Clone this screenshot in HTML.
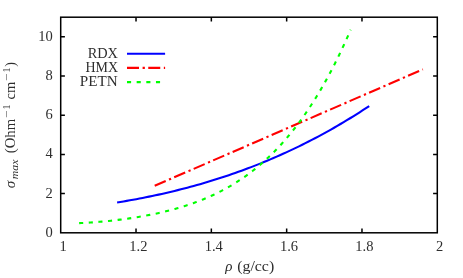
<!DOCTYPE html>
<html><head><meta charset="utf-8"><title>plot</title>
<style>
html,body{margin:0;padding:0;background:#fff;}
body{width:463px;height:278px;overflow:hidden;}
svg{display:block;will-change:transform;}
text{font-family:"Liberation Serif",serif;font-size:14.5px;fill:#2e2e2e;}
</style></head><body>
<svg width="463" height="278" viewBox="0 0 463 278">
<rect width="463" height="278" fill="#fff"/>
<g fill="none" stroke-linecap="butt" stroke-linejoin="round">
<g transform="translate(0,0.3)">
<path d="M117.11,202.21 L120.31,201.68 L123.50,201.15 L126.69,200.60 L129.88,200.03 L133.07,199.45 L136.26,198.86 L139.45,198.26 L142.64,197.64 L145.83,197.00 L149.03,196.35 L152.22,195.69 L155.41,195.01 L158.60,194.32 L161.79,193.61 L164.98,192.89 L168.17,192.15 L171.36,191.39 L174.55,190.62 L177.75,189.84 L180.94,189.03 L184.13,188.21 L187.32,187.38 L190.51,186.52 L193.70,185.65 L196.89,184.76 L200.08,183.86 L203.27,182.93 L206.47,181.99 L209.66,181.03 L212.85,180.05 L216.04,179.06 L219.23,178.04 L222.42,177.01 L225.61,175.95 L228.80,174.88 L231.99,173.79 L235.18,172.68 L238.38,171.55 L241.57,170.40 L244.76,169.22 L247.95,168.03 L251.14,166.82 L254.33,165.59 L257.52,164.33 L260.71,163.06 L263.90,161.76 L267.10,160.44 L270.29,159.10 L273.48,157.74 L276.67,156.36 L279.86,154.95 L283.05,153.52 L286.24,152.07 L289.43,150.59 L292.62,149.10 L295.82,147.57 L299.01,146.03 L302.20,144.46 L305.39,142.87 L308.58,141.25 L311.77,139.61 L314.96,137.95 L318.15,136.26 L321.34,134.55 L324.54,132.81 L327.73,131.04 L330.92,129.25 L334.11,127.44 L337.30,125.60 L340.49,123.73 L343.68,121.84 L346.87,119.92 L350.06,117.97 L353.26,116.00 L356.45,114.00 L359.64,111.97 L362.83,109.92 L366.02,107.84 L369.21,105.73" stroke="#0000ff" stroke-width="2.1"/>
<path d="M154.7,185.5 L422.9,69.04" stroke="#ff0000" stroke-width="2.1" stroke-dasharray="12 3.6 2.25 3.4"/>
<path d="M79.12,222.87 L81.40,222.76 L83.68,222.64 L85.96,222.51 L88.24,222.37 L90.53,222.22 L92.81,222.06 L95.09,221.88 L97.37,221.70 L99.65,221.51 L101.94,221.31 L104.22,221.10 L106.50,220.87 L108.78,220.64 L111.06,220.40 L113.35,220.15 L115.63,219.88 L117.91,219.61 L120.19,219.33 L122.48,219.03 L124.76,218.73 L127.04,218.41 L129.32,218.08 L131.60,217.74 L133.89,217.39 L136.17,217.02 L138.45,216.65 L140.73,216.26 L143.01,215.86 L145.30,215.44 L147.58,215.01 L149.86,214.57 L152.14,214.11 L154.42,213.64 L156.71,213.15 L158.99,212.65 L161.27,212.13 L163.55,211.60 L165.83,211.04 L168.12,210.47 L170.40,209.88 L172.68,209.28 L174.96,208.65 L177.24,208.00 L179.53,207.34 L181.81,206.65 L184.09,205.94 L186.37,205.21 L188.66,204.45 L190.94,203.67 L193.22,202.87 L195.50,202.04 L197.78,201.19 L200.07,200.31 L202.35,199.40 L204.63,198.46 L206.91,197.49 L209.19,196.50 L211.48,195.47 L213.76,194.41 L216.04,193.32 L218.32,192.20 L220.60,191.04 L222.89,189.85 L225.17,188.62 L227.45,187.35 L229.73,186.05 L232.01,184.70 L234.30,183.32 L236.58,181.89 L238.86,180.42 L241.14,178.91 L243.42,177.35 L245.71,175.75 L247.99,174.10 L250.27,172.40 L252.55,170.66 L254.84,168.86 L257.12,167.01 L259.40,165.11 L261.68,163.16 L263.96,161.15 L266.25,159.08 L268.53,156.95 L270.81,154.77 L273.09,152.52 L275.37,150.22 L277.66,147.85 L279.94,145.41 L282.22,142.91 L284.50,140.34 L286.78,137.71 L289.07,135.00 L291.35,132.22 L293.63,129.36 L295.91,126.44 L298.19,123.43 L300.48,120.35 L302.76,117.19 L305.04,113.94 L307.32,110.62 L309.60,107.21 L311.89,103.71 L314.17,100.13 L316.45,96.45 L318.73,92.69 L321.02,88.83 L323.30,84.88 L325.58,80.83 L327.86,76.68 L330.14,72.44 L332.43,68.09 L334.71,63.64 L336.99,59.08 L339.27,54.41 L341.55,49.64 L343.84,44.76 L346.12,39.76 L348.40,34.65 L350.68,29.42" stroke="#00ff00" stroke-width="2.1" stroke-dasharray="4.1 5.555"/>
</g>
<path d="M127,53.8 H165.1" stroke="#0000ff" stroke-width="2.1"/>
<path d="M127,67.9 H165.1" stroke="#ff0000" stroke-width="2.1" stroke-dasharray="12 3.6 2.25 3.4"/>
<path d="M127,82.1 H165.1" stroke="#00ff00" stroke-width="2.1" stroke-dasharray="4.1 5.555"/>
</g>
<g fill="none" stroke="#000" stroke-width="1.5">
<rect x="60.7" y="17.2" width="376.60" height="215.60"/>
<path d="M136.02,232.8 v-4.2 M136.02,17.2 v4.2 M211.34,232.8 v-4.2 M211.34,17.2 v4.2 M286.66,232.8 v-4.2 M286.66,17.2 v4.2 M361.98,232.8 v-4.2 M361.98,17.2 v4.2 M60.7,193.60 h4.2 M437.3,193.60 h-4.2 M60.7,154.40 h4.2 M437.3,154.40 h-4.2 M60.7,115.20 h4.2 M437.3,115.20 h-4.2 M60.7,76.00 h4.2 M437.3,76.00 h-4.2 M60.7,36.80 h4.2 M437.3,36.80 h-4.2"/>
</g>
<g>
<text x="63.10" y="250.8" text-anchor="middle">1</text><text x="138.42" y="250.8" text-anchor="middle">1.2</text><text x="213.74" y="250.8" text-anchor="middle">1.4</text><text x="289.06" y="250.8" text-anchor="middle">1.6</text><text x="364.38" y="250.8" text-anchor="middle">1.8</text><text x="439.70" y="250.8" text-anchor="middle">2</text>
<text x="52.8" y="236.70" text-anchor="end">0</text><text x="52.8" y="197.50" text-anchor="end">2</text><text x="52.8" y="158.30" text-anchor="end">4</text><text x="52.8" y="119.10" text-anchor="end">6</text><text x="52.8" y="79.90" text-anchor="end">8</text><text x="52.8" y="40.70" text-anchor="end">10</text>
<text x="118" y="57.8" text-anchor="end" textLength="30.3" lengthAdjust="spacingAndGlyphs">RDX</text>
<text x="118" y="71.9" text-anchor="end" textLength="32.6" lengthAdjust="spacingAndGlyphs">HMX</text>
<text x="117.6" y="86.0" text-anchor="end" textLength="37.8" lengthAdjust="spacingAndGlyphs">PETN</text>
<text x="225.2" y="270.8" font-style="italic" style="font-size:15px">ρ</text>
<text x="237.2" y="270.8" textLength="37.0" lengthAdjust="spacingAndGlyphs">(g/cc)</text>
<g transform="translate(14.7,187.8) rotate(-90)" style="font-size:15.6px">
<text x="-0.4" y="0" font-style="italic" style="font-size:15px">σ</text>
<text x="8.6" y="2.9" font-style="italic" style="font-size:10.3px" textLength="19.6" lengthAdjust="spacingAndGlyphs">max</text>
<text x="34.6" y="0" style="font-size:15.6px" textLength="34.4" lengthAdjust="spacingAndGlyphs">(Ohm</text>
<text x="69.8" y="-4.6" style="font-size:9.8px" textLength="7.6" lengthAdjust="spacingAndGlyphs">−</text><text x="78.3" y="-4.6" style="font-size:10px">1</text>
<text x="88.3" y="0" style="font-size:15.6px" textLength="17.8" lengthAdjust="spacingAndGlyphs">cm</text>
<text x="106.8" y="-4.6" style="font-size:9.8px" textLength="7.6" lengthAdjust="spacingAndGlyphs">−</text><text x="115.4" y="-4.6" style="font-size:10px">1</text>
<text x="121.0" y="0" style="font-size:15.6px" textLength="4.6" lengthAdjust="spacingAndGlyphs">)</text>
</g>
</g>
</svg>
</body></html>
